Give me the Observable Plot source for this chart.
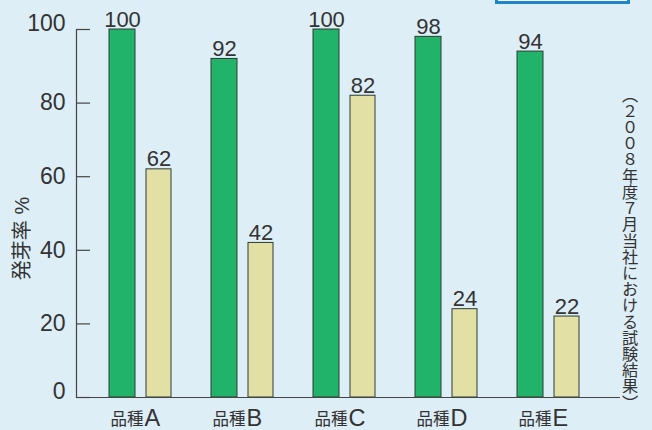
<!DOCTYPE html>
<html><head><meta charset="utf-8">
<script src="https://cdn.jsdelivr.net/npm/d3@7"></script>
<script src="https://cdn.jsdelivr.net/npm/@observablehq/plot@0.6"></script>
<style>
html,body{margin:0;padding:0;background:#ddeef6;}
#wrap{position:relative;width:652px;height:430px;overflow:hidden;}
#legendbox{position:absolute;left:495px;top:-30px;width:135px;height:34px;box-sizing:border-box;border:3px solid #1d87cb;background:#fff;}
#chart{position:absolute;left:0;top:0;}
</style></head>
<body><div id="wrap"><div id="chart"></div><div id="legendbox"></div></div>
<script>
const categories = ["A", "B", "C", "D", "E"];
const seriesGreen = [100, 92, 100, 98, 94];
const seriesYellow = [62, 42, 82, 24, 22];
const yTicks = [0, 20, 40, 60, 80, 100];
const yLabel = "発芽率 %";
const categoryPrefix = "品種";
const note = "（２００８年度７月当社における試験結果）";

const rows = categories.map((c, i) => ({category: c, green: seriesGreen[i], yellow: seriesYellow[i]}));
const ink = "#333";
const edge = "#2e3a34";

const chart = Plot.plot({
  width: 652,
  height: 430,
  marginLeft: 76,
  marginRight: 32,
  marginTop: 29,
  marginBottom: 33,
  style: {background: "transparent", fontFamily: "'Liberation Sans', 'Noto Sans CJK JP', sans-serif", color: ink, overflow: "visible"},
  x: {domain: categories, paddingInner: 0, paddingOuter: 0.164, align: 0.387, axis: null},
  y: {domain: [0, 100]},
  marks: [
    Plot.barY(rows, {x: "category", y: "green", fill: "#22b36a", stroke: edge, strokeWidth: 1, insetLeft: 20, insetRight: 56}),
    Plot.barY(rows, {x: "category", y: "yellow", fill: "#e2e0a4", stroke: edge, strokeWidth: 1, insetLeft: 57, insetRight: 20}),
    Plot.text(rows, {x: "category", y: "green", text: d => String(d.green), dx: -18, dy: -3, lineAnchor: "bottom", fontSize: 22, fill: ink}),
    Plot.text(rows, {x: "category", y: "yellow", text: d => String(d.yellow), dx: 18.5, dy: -3, lineAnchor: "bottom", fontSize: 22, fill: ink}),
    Plot.ruleY([0], {stroke: "#444", strokeWidth: 1.2}),
    Plot.frame({anchor: "left", stroke: "#444", strokeWidth: 1.2}),
    Plot.tickY(yTicks, {y: d => d, insetRight: 530, stroke: "#444", strokeWidth: 1.2}),
    Plot.axisY([20, 40, 60, 80], {tickSize: 0, tickPadding: 11, fontSize: 23, label: null, fill: ink}),
    Plot.axisY([0, 100], {tickSize: 0, tickPadding: 11, fontSize: 23, label: null, fill: ink, dy: -6}),
    Plot.text(rows, {x: "category", text: () => categoryPrefix, frameAnchor: "bottom", textAnchor: "end", dx: 3, dy: 27, lineAnchor: "bottom", fontSize: 16.5, fill: ink}),
    Plot.text(rows, {x: "category", text: "category", frameAnchor: "bottom", textAnchor: "start", dx: 4, dy: 28, lineAnchor: "bottom", fontSize: 23.5, fill: ink}),
    Plot.text([yLabel], {frameAnchor: "left", textAnchor: "middle", rotate: -90, dx: -53.5, dy: 25, fontSize: 20, fill: ink}),
    Plot.text([note], {frameAnchor: "top-right", dx: 8.5, dy: 57, textAnchor: "start", lineAnchor: "bottom", fontSize: 16.2, fill: ink})
  ]
});
document.getElementById("chart").appendChild(chart);
chart.querySelectorAll("text").forEach(t => {
  if (t.textContent === note) {
    t.setAttribute("writing-mode", "vertical-rl");
    t.style.writingMode = "vertical-rl";
    t.style.textOrientation = "mixed";
  }
});
</script>
</body></html>
